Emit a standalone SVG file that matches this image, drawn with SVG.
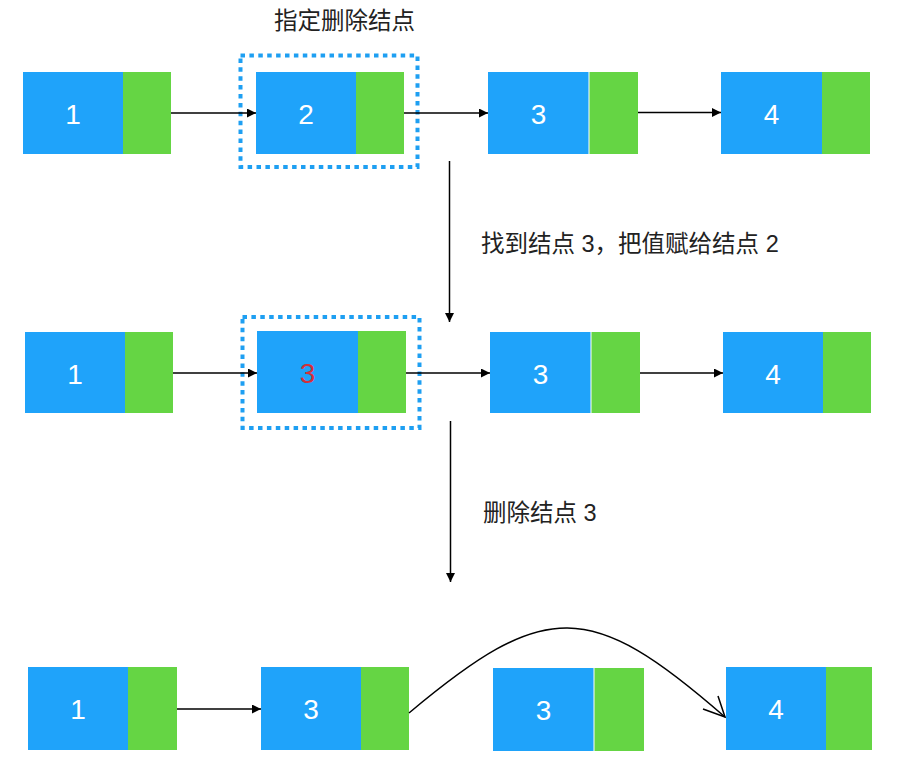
<svg xmlns="http://www.w3.org/2000/svg" width="902" height="773" viewBox="0 0 902 773">
<style>
.blue{fill:#1fa3fa}
.green{fill:#65d544}
.sep{stroke:#ffffff;stroke-width:1}
.num{font-family:"Liberation Sans",Arial,sans-serif;font-size:28px;fill:#ffffff;text-anchor:middle}
.red{fill:#d5303a}
.lbl{font-family:"Liberation Sans","Noto Sans CJK SC",sans-serif;font-size:23.5px;fill:#222222}
.sel{fill:none;stroke:#1e9ff2;stroke-width:4;stroke-dasharray:4.5 4.4}
.edge{fill:none;stroke:#000000;stroke-width:1.5}
</style>
<defs>
<marker id="tri" viewBox="0 0 10 10" refX="10" refY="5" markerWidth="10" markerHeight="9" markerUnits="userSpaceOnUse" orient="auto">
<path d="M0,0 L10,5 L0,10 Z" fill="#000000"/>
</marker>
</defs>
<rect width="902" height="773" fill="#ffffff"/>

<text id="title" class="lbl" x="274" y="28.5">指定删除结点</text>

<!-- Row 1 -->
<g id="r1n1"><rect class="blue" x="23" y="72" width="100" height="82"/><rect class="green" x="123" y="72" width="48" height="82"/><text class="num" x="73" y="123.5">1</text></g>
<g id="r1n2"><rect class="blue" x="256" y="72" width="100" height="82"/><rect class="green" x="356" y="72" width="48" height="82"/><text class="num" x="306" y="123.5">2</text></g>
<g id="r1sel"><rect class="sel" x="240.5" y="55.5" width="177" height="111.5"/></g>
<g id="r1n3"><rect class="blue" x="488" y="72" width="101" height="82"/><rect class="green" x="589" y="72" width="49" height="82"/><line class="sep" x1="589" y1="72" x2="589" y2="154"/><text class="num" x="538.5" y="123.5">3</text></g>
<g id="r1n4"><rect class="blue" x="721" y="72" width="101" height="82"/><rect class="green" x="822" y="72" width="48" height="82"/><text class="num" x="771.5" y="123.5">4</text></g>

<!-- Row 2 -->
<g id="r2n1"><rect class="blue" x="25" y="332" width="100" height="81"/><rect class="green" x="125" y="332" width="48" height="81"/><text class="num" x="75" y="383.5">1</text></g>
<g id="r2n2"><rect class="blue" x="257" y="331" width="101" height="82"/><rect class="green" x="358" y="331" width="48" height="82"/><text class="num red" x="307.5" y="383">3</text></g>
<g id="r2sel"><rect class="sel" x="242.5" y="317" width="177" height="111"/></g>
<g id="r2n3"><rect class="blue" x="490" y="332" width="101" height="81"/><rect class="green" x="591" y="332" width="49" height="81"/><line class="sep" x1="591" y1="332" x2="591" y2="413"/><text class="num" x="540.5" y="383.5">3</text></g>
<g id="r2n4"><rect class="blue" x="723" y="332" width="100" height="81"/><rect class="green" x="823" y="332" width="48" height="81"/><text class="num" x="773" y="383.5">4</text></g>

<text id="lbl1" class="lbl" x="481" y="252">找到结点 3，把值赋给结点 2</text>
<text id="lbl2" class="lbl" x="483" y="521">删除结点 3</text>

<!-- Row 3 -->
<g id="r3n1"><rect class="blue" x="28" y="667" width="100" height="83"/><rect class="green" x="128" y="667" width="49" height="83"/><text class="num" x="78" y="719">1</text></g>
<g id="r3n2"><rect class="blue" x="261" y="667" width="100" height="83"/><rect class="green" x="361" y="667" width="48" height="83"/><text class="num" x="311" y="719">3</text></g>
<g id="r3n3"><rect class="blue" x="493" y="668" width="101" height="83"/><rect class="green" x="594" y="668" width="50" height="83"/><line class="sep" x1="594" y1="668" x2="594" y2="751"/><text class="num" x="543.5" y="720">3</text></g>
<g id="r3n4"><rect class="blue" x="726" y="667" width="100" height="83"/><rect class="green" x="826" y="667" width="46" height="83"/><text class="num" x="776" y="719">4</text></g>

<g id="connectors">
<line class="edge" x1="171" y1="113" x2="256" y2="113" marker-end="url(#tri)"/>
<line class="edge" x1="404" y1="113" x2="488" y2="113" marker-end="url(#tri)"/>
<line class="edge" x1="638" y1="112.5" x2="721" y2="112.5" marker-end="url(#tri)"/>
<line class="edge" x1="449.5" y1="161" x2="449.5" y2="322" marker-end="url(#tri)"/>
<line class="edge" x1="173" y1="373" x2="257" y2="373" marker-end="url(#tri)"/>
<line class="edge" x1="406" y1="373" x2="490" y2="373" marker-end="url(#tri)"/>
<line class="edge" x1="640" y1="373" x2="723" y2="373" marker-end="url(#tri)"/>
<line class="edge" x1="450.5" y1="421" x2="450.5" y2="582" marker-end="url(#tri)"/>
<line class="edge" x1="177" y1="709" x2="261" y2="709" marker-end="url(#tri)"/>
<path class="edge" d="M409,713 C545,599 590,599 725,717"/>
<path class="edge" d="M718,696 L725,717 L703,709"/>
</g>
</svg>
